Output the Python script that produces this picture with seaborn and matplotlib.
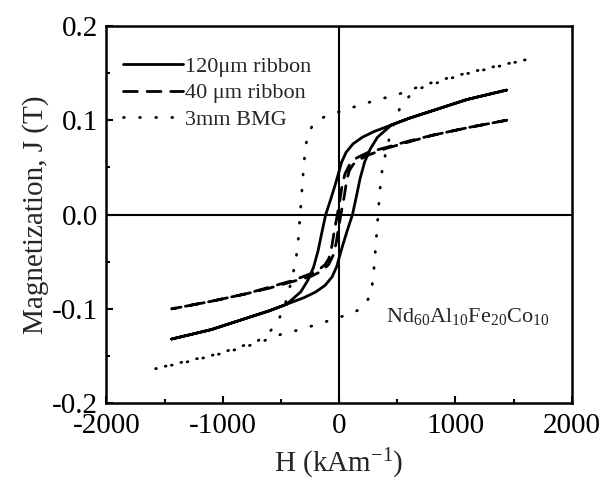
import matplotlib
matplotlib.use("Agg")
import pandas as pd
import seaborn as sns
from matplotlib import pyplot as plt
from matplotlib.ticker import MultipleLocator

# 120 um ribbon: descending branch (+H -> -H) then ascending branch (-H -> +H)
h_120_down = [1440, 1100, 800, 600, 450, 300, 200, 120, 60, 20, 0, -30, -70, -115,
              -150, -180, -220, -270, -330, -450, -600, -800, -1100, -1440]
j_120_down = [0.132, 0.122, 0.110, 0.102, 0.095, 0.088, 0.082, 0.075, 0.066, 0.055, 0.046,
              0.033, 0.017, 0.000, -0.020, -0.038, -0.056, -0.070, -0.082, -0.095, -0.102,
              -0.110, -0.122, -0.132]
h_120_up = [-1440, -1100, -800, -600, -450, -300, -200, -120, -60, -20, 0, 30, 70, 115,
            150, 180, 220, 270, 330, 450, 600, 800, 1100, 1440]
j_120_up = [-0.132, -0.122, -0.110, -0.102, -0.095, -0.088, -0.082, -0.075, -0.066, -0.055,
            -0.046, -0.033, -0.017, 0.000, 0.020, 0.038, 0.056, 0.070, 0.082, 0.095, 0.102,
            0.110, 0.122, 0.132]

# 40 um ribbon
h_40_down = [1440, 1100, 800, 600, 400, 250, 150, 90, 50, 25, 10, -15, -30, -45, -60,
             -75, -90, -120, -170, -250, -400, -600, -800, -1100, -1440]
j_40_down = [0.100, 0.092, 0.084, 0.078, 0.071, 0.066, 0.060, 0.053, 0.043, 0.030, 0.018,
             0.000, -0.010, -0.020, -0.032, -0.041, -0.047, -0.053, -0.058, -0.063, -0.070,
             -0.077, -0.084, -0.092, -0.100]
h_40_up = [-1440, -1100, -800, -600, -400, -250, -150, -90, -50, -25, -10, 15, 30, 45, 60,
           75, 90, 120, 170, 250, 400, 600, 800, 1100, 1440]
j_40_up = [-0.100, -0.092, -0.084, -0.078, -0.071, -0.066, -0.060, -0.053, -0.043, -0.030,
           -0.018, 0.000, 0.010, 0.020, 0.032, 0.041, 0.047, 0.053, 0.058, 0.063, 0.070,
           0.077, 0.084, 0.092, 0.100]

# 3 mm bulk metallic glass
h_bmg_down = [1600, 1300, 1000, 800, 650, 500, 370, 230, 100, 0, -100, -170, -230, -270,
              -290, -305, -320, -335, -350, -370, -400, -450, -520, -600, -700, -850,
              -1050, -1300, -1600]
j_bmg_down = [0.164, 0.156, 0.147, 0.140, 0.134, 0.127, 0.123, 0.118, 0.113, 0.109, 0.105,
              0.101, 0.094, 0.085, 0.070, 0.050, 0.025, 0.000, -0.025, -0.047, -0.065,
              -0.090, -0.112, -0.125, -0.134, -0.140, -0.148, -0.155, -0.164]
h_bmg_up = [-1600, -1300, -1000, -800, -650, -500, -370, -230, -100, 0, 100, 170, 230, 270,
            290, 305, 320, 335, 350, 370, 400, 450, 520, 600, 700, 850, 1050, 1300, 1600]
j_bmg_up = [-0.164, -0.156, -0.147, -0.140, -0.134, -0.127, -0.123, -0.118, -0.113, -0.109,
            -0.105, -0.101, -0.094, -0.085, -0.070, -0.050, -0.025, 0.000, 0.025, 0.047,
            0.065, 0.090, 0.112, 0.125, 0.134, 0.140, 0.148, 0.155, 0.164]

samples = ["120\u03bcm ribbon", "40 \u03bcm ribbon", "3mm BMG"]
styles = ["-", (0, (5, 3.5)), (0, (0.3, 5.5))]

sns.set_theme(style="ticks")
plt.rcParams["font.family"] = ["Liberation Serif", "DejaVu Serif"]
plt.rcParams["mathtext.fontset"] = "custom"
plt.rcParams["mathtext.rm"] = "Liberation Serif"
plt.rcParams["mathtext.it"] = "Liberation Serif:italic"
plt.rcParams["axes.unicode_minus"] = False

fig, ax = plt.subplots(figsize=(6.05, 4.8), dpi=100)
fig.subplots_adjust(left=0.176, right=0.945, bottom=0.16, top=0.946)

ax.axhline(0, color="black", lw=1.5, zorder=1)
ax.axvline(0, color="black", lw=1.5, zorder=1)

loops = [
    (h_120_down + h_120_up, j_120_down + j_120_up),
    (h_40_down + h_40_up, j_40_down + j_40_up),
    (h_bmg_down + h_bmg_up, j_bmg_down + j_bmg_up),
]
for name, ls, (h, j) in zip(samples, styles, loops):
    df = pd.DataFrame({"H": h, "J": j})
    sns.lineplot(data=df, x="H", y="J", sort=False, estimator=None, color="black",
                 linestyle=ls, lw=2.0, dash_capstyle="round", label=name, ax=ax)

ax.set_xlim(-2000, 2000)
ax.set_ylim(-0.2, 0.2)
ax.xaxis.set_major_locator(MultipleLocator(1000))
ax.xaxis.set_minor_locator(MultipleLocator(500))
ax.yaxis.set_major_locator(MultipleLocator(0.1))
ax.yaxis.set_minor_locator(MultipleLocator(0.05))
ax.yaxis.set_major_formatter(plt.FormatStrFormatter("%.1f"))
ax.tick_params(which="both", direction="in", top=False, right=False, width=1.5,
               labelsize=21, colors="black")
ax.tick_params(axis="y", which="major", length=5, pad=6)
ax.tick_params(axis="x", which="major", length=5, pad=7)
ax.tick_params(which="minor", length=3)
for spine in ax.spines.values():
    spine.set_linewidth(1.8)
    spine.set_color("black")

ax.set_xlabel("H (kAm$^{-1}$)", fontsize=21, labelpad=6)
ax.set_ylabel("Magnetization, J (T)", fontsize=21, labelpad=2)

ax.text(405, -0.108, "Nd$_{60}$Al$_{10}$Fe$_{20}$Co$_{10}$", fontsize=16,
        ha="left", va="center")

ax.legend(loc="upper left", bbox_to_anchor=(0.035, 0.92), frameon=False, fontsize=16,
          handlelength=2.7, handletextpad=0.1, labelspacing=0.28, borderpad=0,
          borderaxespad=0)

fig.savefig("out.png", dpi=100)
